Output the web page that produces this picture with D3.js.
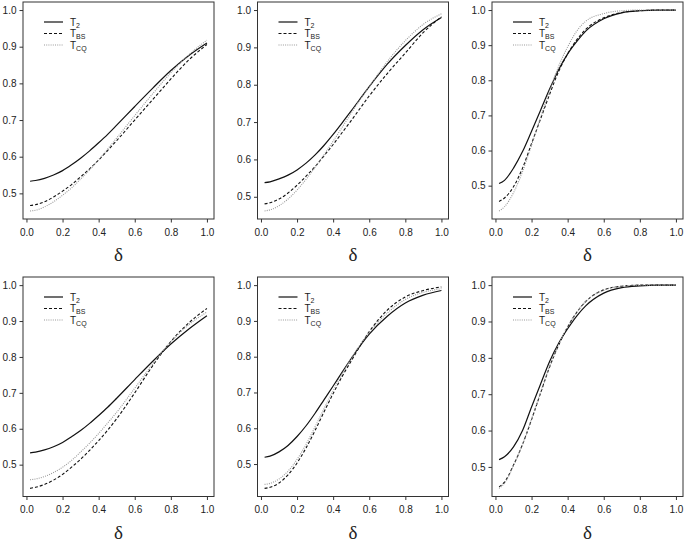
<!DOCTYPE html>
<html>
<head>
<meta charset="utf-8"/>
<script src="https://d3js.org/d3.v7.min.js"></script>
<style>
body { margin:0; background:#fff; }
</style>
</head>
<body>
<div id="well"></div>
<script>
// delta grid the curves were read at
var delta = [0.02, 0.05, 0.1, 0.15, 0.2, 0.25, 0.3, 0.35, 0.4, 0.45, 0.5, 0.6, 0.7, 0.8, 0.9, 1.0];

// top row
var t2_p1 = [0.533, 0.535, 0.541, 0.550, 0.562, 0.578, 0.596, 0.616, 0.638, 0.661, 0.686, 0.737, 0.787, 0.835, 0.876, 0.910];
var bs_p1 = [0.467, 0.469, 0.477, 0.490, 0.506, 0.524, 0.545, 0.567, 0.591, 0.617, 0.644, 0.700, 0.756, 0.812, 0.864, 0.906];
var cq_p1 = [0.452, 0.454, 0.463, 0.477, 0.495, 0.515, 0.539, 0.564, 0.592, 0.621, 0.651, 0.712, 0.772, 0.829, 0.878, 0.918];

var t2_p2 = [0.538, 0.540, 0.548, 0.558, 0.572, 0.590, 0.612, 0.638, 0.667, 0.698, 0.730, 0.795, 0.855, 0.905, 0.948, 0.980];
var bs_p2 = [0.481, 0.484, 0.494, 0.510, 0.531, 0.555, 0.581, 0.610, 0.640, 0.672, 0.704, 0.770, 0.830, 0.885, 0.940, 0.982];
var cq_p2 = [0.462, 0.465, 0.476, 0.494, 0.518, 0.547, 0.579, 0.613, 0.649, 0.686, 0.724, 0.795, 0.862, 0.918, 0.962, 0.990];

var t2_p3 = [0.506, 0.515, 0.550, 0.597, 0.655, 0.715, 0.775, 0.830, 0.875, 0.910, 0.940, 0.975, 0.992, 0.998, 1.000, 1.000];
var bs_p3 = [0.455, 0.465, 0.497, 0.550, 0.620, 0.690, 0.760, 0.825, 0.875, 0.915, 0.945, 0.978, 0.993, 0.998, 1.000, 1.000];
var cq_p3 = [0.428, 0.440, 0.480, 0.540, 0.615, 0.695, 0.770, 0.840, 0.895, 0.940, 0.968, 0.990, 0.998, 1.000, 1.000, 1.000];

// bottom row
var t2_p4 = [0.533, 0.535, 0.541, 0.550, 0.562, 0.578, 0.595, 0.615, 0.637, 0.660, 0.685, 0.737, 0.788, 0.836, 0.878, 0.915];
var bs_p4 = [0.434, 0.437, 0.445, 0.457, 0.473, 0.493, 0.515, 0.540, 0.567, 0.596, 0.628, 0.700, 0.776, 0.843, 0.895, 0.935];
var cq_p4 = [0.458, 0.460, 0.467, 0.478, 0.493, 0.512, 0.535, 0.560, 0.587, 0.616, 0.646, 0.713, 0.781, 0.842, 0.890, 0.925];

var t2_p5 = [0.519, 0.522, 0.534, 0.552, 0.577, 0.607, 0.642, 0.680, 0.718, 0.757, 0.795, 0.863, 0.913, 0.950, 0.972, 0.985];
var bs_p5 = [0.432, 0.435, 0.447, 0.470, 0.503, 0.545, 0.594, 0.646, 0.697, 0.745, 0.788, 0.870, 0.930, 0.967, 0.985, 0.995];
var cq_p5 = [0.443, 0.446, 0.458, 0.480, 0.513, 0.555, 0.604, 0.655, 0.705, 0.752, 0.795, 0.868, 0.922, 0.960, 0.980, 0.990];

var t2_p6 = [0.520, 0.528, 0.555, 0.600, 0.665, 0.728, 0.790, 0.840, 0.880, 0.915, 0.943, 0.978, 0.993, 0.998, 1.000, 1.000];
var bs_p6 = [0.445, 0.458, 0.505, 0.562, 0.630, 0.703, 0.775, 0.835, 0.885, 0.925, 0.955, 0.987, 0.997, 1.000, 1.000, 1.000];
var cq_p6 = [0.441, 0.455, 0.503, 0.562, 0.632, 0.705, 0.777, 0.837, 0.886, 0.925, 0.955, 0.986, 0.997, 1.000, 1.000, 1.000];

var xTicks = [0, 0.2, 0.4, 0.6, 0.8, 1.0];
var yTicks = [0.5, 0.6, 0.7, 0.8, 0.9, 1.0];
var seriesNames = ['2', 'BS', 'CQ'];

var panels = [
	[t2_p1, bs_p1, cq_p1], [t2_p2, bs_p2, cq_p2], [t2_p3, bs_p3, cq_p3],
	[t2_p4, bs_p4, cq_p4], [t2_p5, bs_p5, cq_p5], [t2_p6, bs_p6, cq_p6]
];

var styles = [
	{stroke:'#111', dash:null, width:1.2},
	{stroke:'#111', dash:'3,2', width:1.1},
	{stroke:'#999', dash:'1,1.2', width:1.1}
];

var sans = '"Liberation Sans", Arial, Helvetica, sans-serif';
var serif = '"Liberation Serif", "Times New Roman", Times, serif';

var width = 685, height = 541;
var colLeft = [23, 257.5, 492];
var rowTop = [2, 277];
var rowH = [217, 219.5];
var boxW = 191;

var svg = d3.select('#well').append('svg')
	.attr('width', width)
	.attr('height', height);

// R style padding: 4% on each side
function pad(lo, hi){
	var r = hi - lo;
	return [lo - 0.04 * r, hi + 0.04 * r];
}

function styleAxis(a){
	a.attr('font-family', sans);
	a.select('.domain').remove();
	a.selectAll('line').attr('stroke', '#333');
	a.selectAll('text').attr('font-size', '10px').attr('fill', '#222');
}

panels.forEach(function(series, i){
	var left = colLeft[i % 3];
	var top = rowTop[Math.floor(i / 3)];
	var h = rowH[Math.floor(i / 3)];

	var x = d3.scaleLinear()
		.domain(pad(d3.min(delta), d3.max(delta)))
		.range([left, left + boxW]);
	var ymin = d3.min(series, function(s){ return d3.min(s); });
	var y = d3.scaleLinear()
		.domain(pad(ymin, 1))
		.range([top + h, top]);

	var g = svg.append('g');

	g.append('g')
		.attr('transform', 'translate(0,' + (top + h) + ')')
		.call(d3.axisBottom(x).tickValues(xTicks).tickSize(3.5).tickPadding(6).tickFormat(d3.format('.1f')))
		.call(styleAxis);

	g.append('g')
		.attr('transform', 'translate(' + left + ',0)')
		.call(d3.axisLeft(y).tickValues(yTicks).tickSize(3.5).tickPadding(3).tickFormat(d3.format('.1f')))
		.call(styleAxis);

	var line = d3.line()
		.x(function(d, k){ return x(delta[k]); })
		.y(function(d){ return y(d); })
		.curve(d3.curveMonotoneX);

	series.forEach(function(s, k){
		g.append('path')
			.datum(s)
			.attr('d', line)
			.attr('fill', 'none')
			.attr('stroke', styles[k].stroke)
			.attr('stroke-width', styles[k].width)
			.attr('stroke-dasharray', styles[k].dash);
	});

	g.append('rect')
		.attr('x', left).attr('y', top)
		.attr('width', boxW).attr('height', h)
		.attr('fill', 'none')
		.attr('stroke', '#333')
		.attr('stroke-width', 1);

	// legend
	seriesNames.forEach(function(name, k){
		var ly = top + 20 + k * 11.5;
		g.append('line')
			.attr('x1', left + 21).attr('x2', left + 40)
			.attr('y1', ly).attr('y2', ly)
			.attr('stroke', styles[k].stroke)
			.attr('stroke-width', styles[k].width)
			.attr('stroke-dasharray', styles[k].dash);
		var t = g.append('text')
			.attr('x', left + 47).attr('y', ly + 3.5)
			.attr('font-family', sans)
			.attr('font-size', '10px').attr('fill', '#222');
		t.append('tspan').text('T');
		t.append('tspan').attr('dy', 2).attr('font-size', '7px').text(name);
	});

	g.append('text')
		.attr('x', left + boxW / 2)
		.attr('y', top + h + 42)
		.attr('text-anchor', 'middle')
		.attr('font-family', serif)
		.attr('font-size', '19px')
		.attr('fill', '#222')
		.text('δ');
});
</script>
</body>
</html>
